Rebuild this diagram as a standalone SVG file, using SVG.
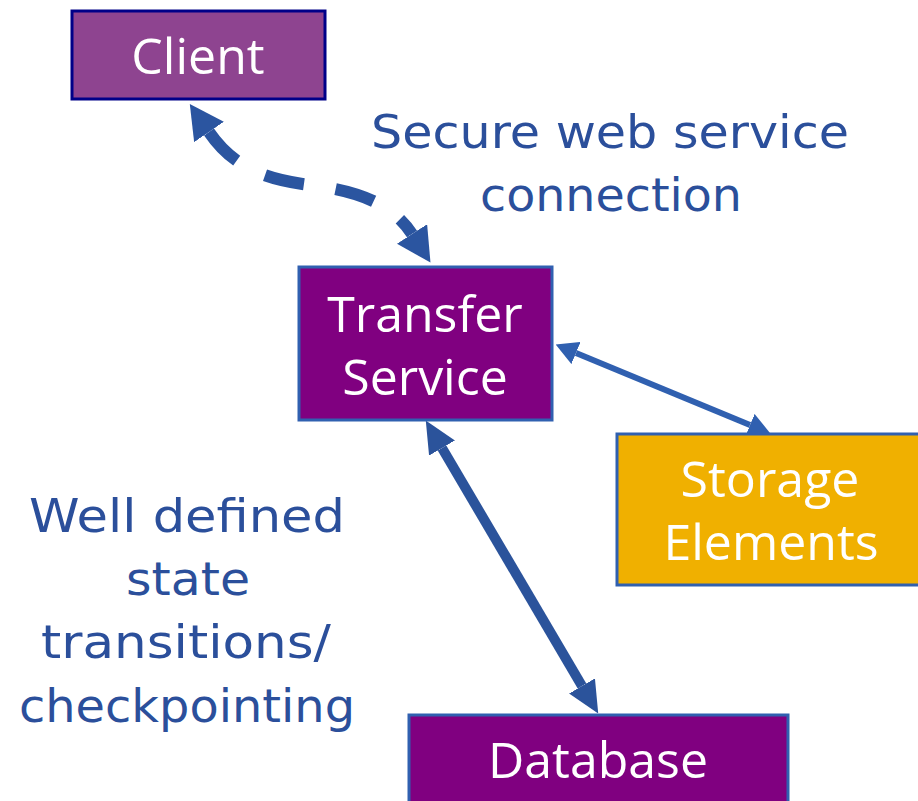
<svg xmlns="http://www.w3.org/2000/svg" width="918" height="801" viewBox="0 0 918 801">
  <style>
    .node-text { font-family: "Open Sans", "DejaVu Sans", sans-serif; fill: #ffffff; font-size: 50px; text-anchor: middle; }
    .note { font-family: "DejaVu Sans", "Noto Sans", sans-serif; fill: #2B4F9B; font-size: 47px; text-anchor: middle; }
    .conn { fill: none; stroke-linecap: butt; }
  </style>
  <defs>
    <marker id="ahDash" markerUnits="userSpaceOnUse" markerWidth="34" markerHeight="36" refX="0" refY="18" orient="auto-start-reverse" viewBox="0 0 34 36">
      <path d="M0,0 L34,18 L0,36 Z" fill="#2B55A0"/>
    </marker>
    <marker id="ahSmall" markerUnits="userSpaceOnUse" markerWidth="22" markerHeight="24" refX="0" refY="12" orient="auto-start-reverse" viewBox="0 0 22 24">
      <path d="M0,0 L22,12 L0,24 Z" fill="#3060B0"/>
    </marker>
    <marker id="ahBig" markerUnits="userSpaceOnUse" markerWidth="32" markerHeight="30" refX="0" refY="15" orient="auto-start-reverse" viewBox="0 0 32 30">
      <path d="M0,0 L32,15 L0,30 Z" fill="#2B539B"/>
    </marker>
  </defs>
  <rect width="918" height="801" fill="#ffffff"/>

  <g id="connectors">
    <path class="conn" d="M 209,132 C 235,170 270,180 310,185 S 390,200 412,234" stroke="#2B55A0" stroke-width="12" stroke-dasharray="40,32" marker-start="url(#ahDash)" marker-end="url(#ahDash)"/>
    <line class="conn" x1="576" y1="353" x2="750" y2="425" stroke="#3060B0" stroke-width="6" marker-start="url(#ahSmall)" marker-end="url(#ahSmall)"/>
    <line class="conn" x1="442" y1="448" x2="582" y2="686" stroke="#2B539B" stroke-width="10" marker-start="url(#ahBig)" marker-end="url(#ahBig)"/>
  </g>

  <g id="client">
    <rect x="72" y="11" width="253" height="88" fill="#8E4490" stroke="#000088" stroke-width="3"/>
    <text class="node-text" x="198" y="74">Client</text>
  </g>

  <g id="transfer-service">
    <rect x="299" y="267" width="253" height="153" fill="#800080" stroke="#3060B0" stroke-width="3"/>
    <text class="node-text" x="425" y="332">Transfer</text>
    <text class="node-text" x="425" y="395">Service</text>
  </g>

  <g id="storage-elements">
    <rect x="617" y="434" width="310" height="151" fill="#F0B000" stroke="#3060B0" stroke-width="3"/>
    <text class="node-text" x="770" y="497">Storage</text>
    <text class="node-text" x="771" y="560">Elements</text>
  </g>

  <g id="database">
    <rect x="409" y="715" width="379" height="100" fill="#800080" stroke="#3060B0" stroke-width="3"/>
    <text class="node-text" x="598" y="778">Database</text>
  </g>

  <g id="labels">
    <text class="note" x="610" y="148" textLength="478" lengthAdjust="spacingAndGlyphs">Secure web service</text>
    <text class="note" x="611" y="211" textLength="262" lengthAdjust="spacingAndGlyphs">connection</text>
    <text class="note" x="187" y="532" textLength="316" lengthAdjust="spacingAndGlyphs">Well defined</text>
    <text class="note" x="188" y="595" textLength="124" lengthAdjust="spacingAndGlyphs">state</text>
    <text class="note" x="186" y="658" textLength="290" lengthAdjust="spacingAndGlyphs">transitions/</text>
    <text class="note" x="187" y="722" textLength="336" lengthAdjust="spacingAndGlyphs">checkpointing</text>
  </g>
</svg>
